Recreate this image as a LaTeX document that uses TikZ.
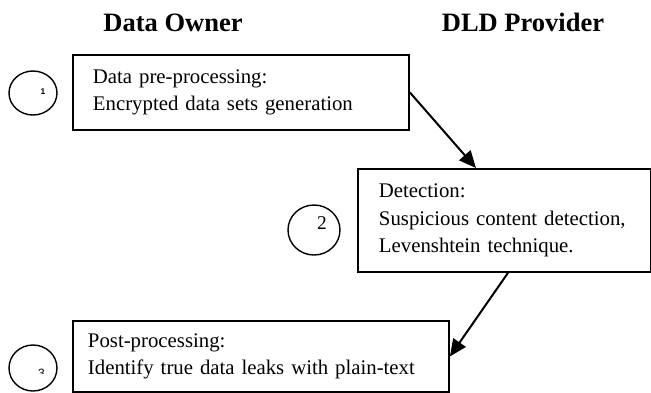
\documentclass[tikz,border=0pt]{standalone}
\usepackage{fontspec}
\setmainfont{Liberation Serif}
\newfontfamily\digitfont{Liberation Sans}
\usetikzlibrary{arrows.meta,shapes.geometric,calc}
\begin{document}
\begin{tikzpicture}[x=1pt,y=-1pt,
  box/.style={draw, line width=1.9pt, rectangle, align=left, anchor=north west,
              inner ysep=0pt, font=\fontsize{20.8}{27.5}\selectfont},
  ring/.style={draw, ellipse, line width=1.4pt, inner sep=0pt},
  title/.style={anchor=base, inner sep=0pt, font=\fontsize{26.5}{30}\selectfont\bfseries},
  smalldigit/.style={inner sep=0pt, font=\digitfont\bfseries\fontsize{8.4}{9}\selectfont},
  bigdigit/.style={inner sep=0pt, font=\fontsize{19.5}{20}\selectfont},
  flow/.style={line width=2pt, -{Triangle[length=17pt,width=15pt]}}
  ]
\clip (0,0) rectangle (651,392);
\fill[white] (0,0) rectangle (651,392);

\node[title] (t1) at (173,31.7) {Data Owner};
\node[title] (t2) at (523,31.7) {DLD Provider};

\node[box, inner xsep=20pt, text width=296pt, minimum height=75pt] (b1) at (72,54)
  {Data pre-processing:\\Encrypted data sets generation};
\node[box, inner xsep=21pt, text width=251pt, minimum height=103pt] (b2) at (357,168)
  {Detection:\\Suspicious content detection,\\Levenshtein technique.};
\node[box, inner xsep=15pt, text width=346pt, minimum height=71pt] (b3) at (72,320)
  {Post-processing:\\Identify true data leaks with plain-text};

\node[ring, minimum width=48pt, minimum height=44pt] (c1) at (33,93) {};
\node[smalldigit] (n1) at (43,92) {1};
\node[ring, minimum width=52pt, minimum height=50pt] (c2) at (314,230) {};
\node[bigdigit] (n2) at (322,223.5) {2};
\node[ring, minimum width=48pt, minimum height=46pt] (c3) at (33,368) {};
\begin{scope}
  \clip (30,360) rectangle (52,373.5);
  \node[anchor=base, inner sep=0pt, font=\digitfont\fontsize{12}{13}\selectfont] (n3) at (41.5,377) {3};
\end{scope}

\draw[flow] (b1.east) -- ($(b2.north)+(-28.5,0)$);
\draw[flow] ($(b2.south)+(3.5,0)$) -- (b3.east);
\end{tikzpicture}
\end{document}
